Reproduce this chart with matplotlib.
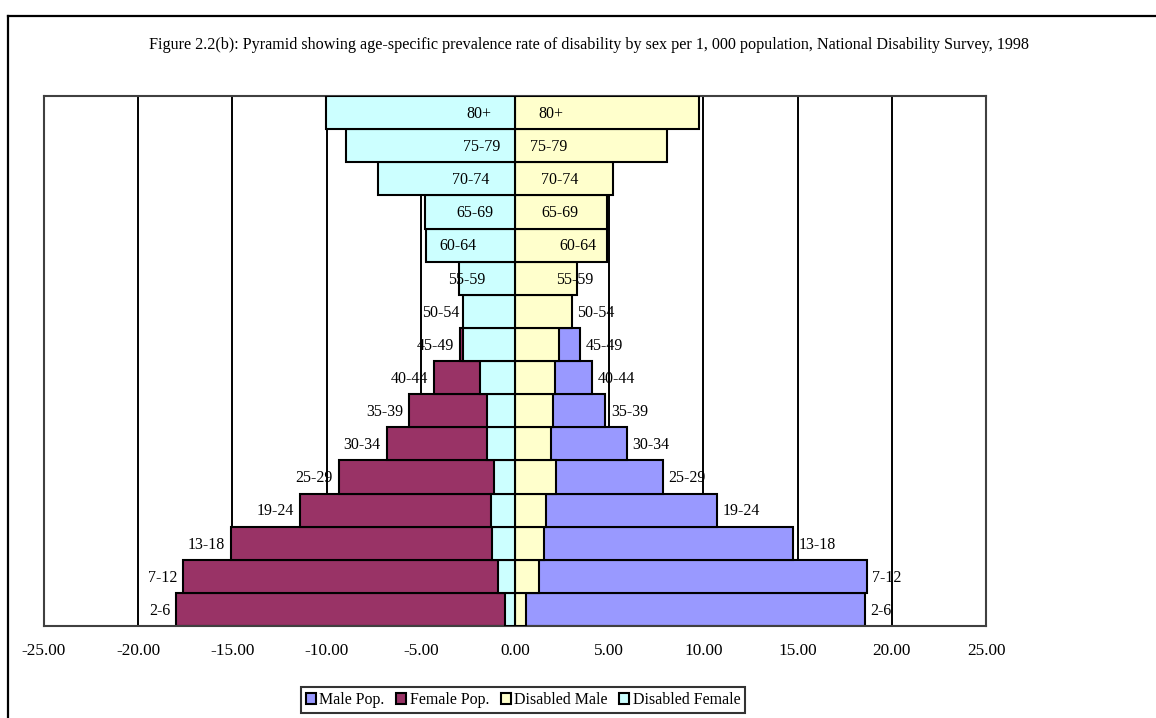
import numpy as np
import matplotlib
matplotlib.use('Agg')
import matplotlib.pyplot as plt
from matplotlib.patches import Patch
from matplotlib.lines import Line2D

plt.rcParams['font.family'] = ['Liberation Serif', 'DejaVu Serif']
plt.rcParams['axes.unicode_minus'] = False

# age groups, bottom to top
ages = ['2-6', '7-12', '13-18', '19-24', '25-29', '30-34', '35-39', '40-44',
        '45-49', '50-54', '55-59', '60-64', '65-69', '70-74', '75-79', '80+']

male_pop = [18.57, 18.66, 14.74, 10.72, 7.86, 5.95, 4.80, 4.10,
            3.44, 2.98, 1.86, 2.08, 1.12, 1.07, 0.50, 0.93]
female_pop = [-17.97, -17.62, -15.06, -11.40, -9.36, -6.82, -5.61, -4.29,
              -2.90, -2.62, -1.24, -1.74, -0.85, -1.05, -0.46, -0.95]
disabled_male = [0.57, 1.27, 1.54, 1.62, 2.15, 1.92, 2.01, 2.12,
                 2.33, 3.04, 3.30, 4.89, 4.87, 5.19, 8.07, 9.75]
disabled_female = [-0.55, -0.88, -1.20, -1.25, -1.11, -1.47, -1.47, -1.85,
                   -2.74, -2.78, -2.97, -4.70, -4.80, -7.25, -8.97, -10.03]

title = ('Figure 2.2(b): Pyramid showing age-specific prevalence rate of disability '
         'by sex per 1, 000 population, National Disability Survey, 1998')

c_male = '#9999FF'
c_female = '#993366'
c_dmale = '#FFFFCC'
c_dfemale = '#CCFFFF'

W, H = 1156, 718
fig = plt.figure(figsize=(W / 100, H / 100), dpi=100)
ax = fig.add_axes([44 / W, 1 - 626 / H, (986 - 44) / W, (626 - 96) / H])

y = np.arange(len(ages))
kw = dict(height=1.0, edgecolor='black', linewidth=1.5)
ax.barh(y, male_pop, color=c_male, zorder=2, **kw)
ax.barh(y, female_pop, color=c_female, zorder=2, **kw)
ax.barh(y, disabled_male, color=c_dmale, zorder=3, **kw)
ax.barh(y, disabled_female, color=c_dfemale, zorder=3, **kw)

# category labels at the outer end of the population bars
for i, lab in enumerate(ages):
    ax.annotate(lab, (male_pop[i], i), xytext=(4, -1), textcoords='offset points',
                ha='left', va='center', fontsize=11.5, zorder=5)
    ax.annotate(lab, (female_pop[i], i), xytext=(-4.3, -1), textcoords='offset points',
                ha='right', va='center', fontsize=11.5, zorder=5)

ax.set_xlim(-25, 25)
ax.set_ylim(-0.5, len(ages) - 0.5)
ax.set_xticks(np.arange(-25, 26, 5))
ax.set_xticklabels(['%.2f' % v for v in np.arange(-25, 26, 5)], fontsize=12.4)
ax.set_yticks([])
ax.tick_params(axis='x', length=0, pad=12)
ax.set_axisbelow(True)
ax.grid(axis='x', color='black', linewidth=1.4)
for s in ax.spines.values():
    s.set_color('#404040')
    s.set_linewidth(1.5)

fig.text(589 / W, 1 - 45 / H, title, ha='center', va='center', fontsize=11.65)

# chart area frame (left and top only, rest cropped)
fig.add_artist(Line2D([8 / W, 8 / W], [0, 1 - 16 / H], color='black', lw=1.6,
                      transform=fig.transFigure))
fig.add_artist(Line2D([8 / W, 1], [1 - 16 / H, 1 - 16 / H], color='black', lw=1.6,
                      transform=fig.transFigure))

handles = [Patch(facecolor=c, edgecolor='black', linewidth=1.5)
           for c in [c_male, c_female, c_dmale, c_dfemale]]
leg = fig.legend(handles, ['Male Pop.', 'Female Pop.', 'Disabled Male', 'Disabled Female'],
                 loc='center', bbox_to_anchor=(523 / W, 1 - 700 / H), ncol=4,
                 fontsize=11.5, frameon=True, fancybox=False, handlelength=0.65,
                 handleheight=0.65, handletextpad=0.2, columnspacing=0.72,
                 borderpad=0.3, borderaxespad=0)
leg.get_frame().set_edgecolor('black')
leg.get_frame().set_linewidth(1.5)

fig.savefig('out.png', dpi=100)
